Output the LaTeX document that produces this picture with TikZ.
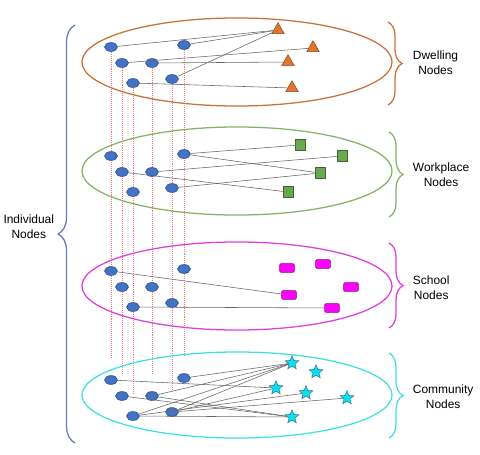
\documentclass[tikz,border=0pt]{standalone}
\usepackage{fontspec}
\setmainfont{Liberation Sans}
\usetikzlibrary{positioning,shapes.geometric,decorations.pathreplacing,backgrounds}
\definecolor{indblue}{HTML}{4472C4}
\definecolor{indedge}{HTML}{2F5597}
\definecolor{dwcol}{HTML}{C8703A}
\definecolor{dwfill}{HTML}{E2762F}
\definecolor{wpcol}{HTML}{82B366}
\definecolor{wpfill}{HTML}{6AA84F}
\definecolor{sccol}{HTML}{E03CE0}
\definecolor{scfill}{HTML}{FF00FF}
\definecolor{cmcol}{HTML}{3FE0E0}
\definecolor{cmfill}{HTML}{00E5F0}
\definecolor{cmedge}{HTML}{3C7896}
\definecolor{bracecol}{HTML}{5B7DB8}
\definecolor{linkgray}{HTML}{666666}

\begin{document}
\begin{tikzpicture}[x=0.025cm, y=-0.025cm,
  person/.style={
    ellipse, draw=indedge, fill=indblue, line width=0.5pt,
    minimum width=0.32cm, minimum height=0.22cm, inner sep=0pt
  },
  layer/.style={ellipse, line width=0.9pt, minimum width=7.75cm, minimum height=2.2cm, inner sep=0pt},
  dwelling/.style={regular polygon, regular polygon sides=3, draw=dwfill!60!black, fill=dwfill,
    minimum size=0.36cm, inner sep=0pt},
  workplace/.style={rectangle, draw=wpfill!60!black, fill=wpfill,
    minimum width=0.25cm, minimum height=0.27cm, inner sep=0pt},
  school/.style={rectangle, rounded corners=1pt, draw=scfill!55!black, fill=scfill,
    minimum width=0.37cm, minimum height=0.22cm, inner sep=0pt},
  community/.style={star, star points=5, star point ratio=2.3, draw=cmedge, fill=cmfill,
    minimum size=0.36cm, inner sep=0pt},
  link/.style={draw=linkgray, line width=0.4pt},
  tie/.style={draw=red!55, dash pattern=on 0.7pt off 0.7pt, line width=0.6pt, shorten >=0.45cm},
  group/.style={decorate, decoration={brace, amplitude=10pt}, line width=0.9pt},
  grouplabel/.style={font=\fontsize{8.5}{10.5}\selectfont, align=center}
]
\useasboundingbox (0,0) rectangle (480,454);

% layers
\node[layer, draw=dwcol] (dwzone) at (237,62)  {};
\node[layer, draw=wpcol] (wpzone) at (237,171) {};
\node[layer, draw=sccol] (sczone) at (237,286) {};
\node[layer, draw=cmcol, minimum height=2.15cm] (cmzone) at (237,395) {};

% the same six individuals in every layer
\foreach \lay/\cy in {dw/62, wp/171, sc/286, cm/395}{
  \node[person] (\lay1) at (111,\cy-15) {};
  \node[person] (\lay2) at (184,\cy-17) {};
  \node[person] (\lay3) at (122,\cy+1)  {};
  \node[person] (\lay4) at (152,\cy+1)  {};
  \node[person] (\lay5) at (133,\cy+21) {};
  \node[person] (\lay6) at (172,\cy+17) {};
}

\begin{scope}[on background layer]
\foreach \k in {1,...,6}
  \draw[tie] (dw\k) -- (cm\k);
\end{scope}

% dwellings
\node[dwelling] (dt1) at (278,30) {};
\node[dwelling] (dt2) at (313,48) {};
\node[dwelling] (dt3) at (288,62) {};
\node[dwelling] (dt4) at (292,88) {};

\draw[link] (dw1) -- (dt1);
\draw[link] (dw2) -- (dt1);
\draw[link] (dw6) -- (dt1);
\draw[link] (dw3) -- (dt2);
\draw[link] (dw4) -- (dt3);
\draw[link] (dw5) -- (dt4);

% workplaces
\node[workplace] (wt1) at (300,145) {};
\node[workplace] (wt2) at (342,156) {};
\node[workplace] (wt3) at (320,173) {};
\node[workplace] (wt4) at (288,192) {};

\draw[link] (wp2) -- (wt1);
\draw[link] (wp2) -- (wt3);
\draw[link] (wp3) -- (wt4);
\draw[link] (wp4) -- (wt2);
\draw[link] (wp6) -- (wt3);

% schools
\node[school] (st1) at (287,268) {};
\node[school] (st2) at (323,264) {};
\node[school] (st3) at (351,287) {};
\node[school] (st4) at (289,295) {};
\node[school] (st5) at (332,308) {};

\draw[link] (sc1) -- (st4);
\draw[link] (sc5) -- (st5);

% community
\node[community] (ct1) at (292,363) {};
\node[community] (ct2) at (316,372) {};
\node[community] (ct3) at (276,388) {};
\node[community] (ct4) at (306,393) {};
\node[community] (ct5) at (347,398) {};
\node[community] (ct6) at (292,417) {};

\draw[link] (cm1) -- (ct3);
\draw[link] (cm2) -- (ct1);
\draw[link] (cm3) -- (ct6);
\draw[link] (cm4) -- (ct1);
\draw[link] (cm4) -- (ct6);
\draw[link] (cm5) -- (ct1);
\draw[link] (cm5) -- (ct4);
\draw[link] (cm5) -- (ct6);
\draw[link] (cm6) -- (ct1);
\draw[link] (cm6) -- (ct3);
\draw[link] (cm6) -- (ct5);

% braces and labels
\draw[group, draw=bracecol, decoration={amplitude=12pt}] (75,443) -- (75,25);
\node[grouplabel, anchor=east] (indlbl) at (59,227) {Individual\\Nodes};

\draw[group, draw=dwcol] (388,22) -- (388,105);
\draw[group, draw=wpcol] (389,132) -- (389,217);
\draw[group, draw=sccol] (389,243) -- (389,328);
\draw[group, draw=cmcol] (389,353) -- (389,438);

\node[grouplabel, anchor=west] (dwlbl) at (408,63)  {Dwelling\\Nodes};
\node[grouplabel, anchor=west] (wplbl) at (408,175) {Workplace\\Nodes};
\node[grouplabel, anchor=west] (sclbl) at (408,288) {School\\Nodes};
\node[grouplabel, anchor=west] (cmlbl) at (408,397) {Community\\Nodes};
\end{tikzpicture}
\end{document}
